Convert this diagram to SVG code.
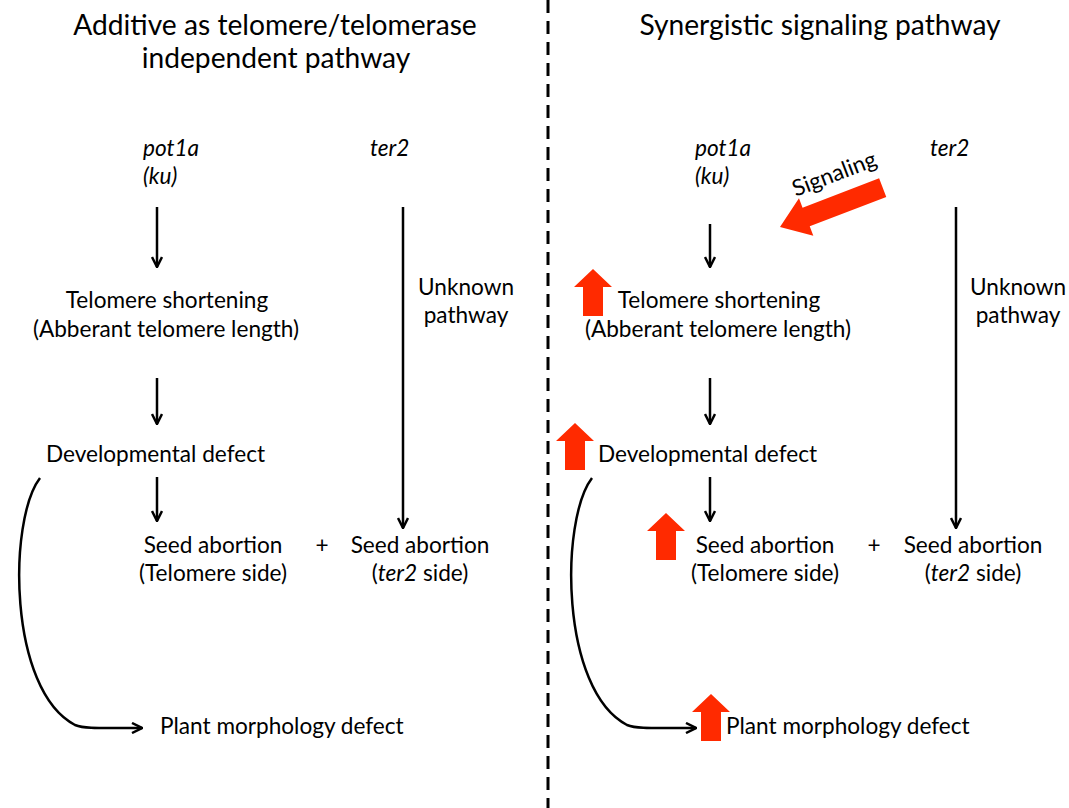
<svg xmlns="http://www.w3.org/2000/svg" width="1069" height="808" viewBox="0 0 1069 808">
<style>
text{font-family:Lato,"Open Sans","Liberation Sans",sans-serif;fill:#000;font-size:22.6px}
.t{font-size:28.2px}
.i{font-style:italic}
.m{text-anchor:middle}
.c{fill:none;stroke:#000;stroke-width:2.5}
.up{fill:#FF2A00}
</style>
<defs>
<marker id="ah" viewBox="0 0 12 12" refX="11" refY="6" markerWidth="12" markerHeight="12" markerUnits="userSpaceOnUse" orient="auto">
<path d="M1,1 L11,6 L1,11" fill="none" stroke="#000" stroke-width="2.5"/>
</marker>
<path id="upa" d="M0,0 L19,18 L10,18 L10,47 L-10,47 L-10,18 L-19,18 Z"/>
</defs>
<rect width="1069" height="808" fill="#fff"/>
<line x1="548" y1="0" x2="548" y2="808" stroke="#000" stroke-width="3" stroke-dasharray="13,8"/>
<g id="titles">
<text class="t m" x="275" y="35">Additive as telomere/telomerase</text>
<text class="t m" x="276" y="68">independent pathway</text>
<text class="t m" x="820" y="35">Synergistic signaling pathway</text>
</g>
<g id="left">
<g id="l-pot1a"><text class="i" x="143" y="156">pot1a</text><text class="i" x="143" y="184">(ku)</text></g>
<g id="l-ter2"><text class="i" x="370" y="156">ter2</text></g>
<g id="l-telo"><text class="m" x="167" y="308">Telomere shortening</text><text class="m" x="166" y="337">(Abberant telomere length)</text></g>
<g id="l-unknown"><text class="m" x="466" y="295">Unknown</text><text class="m" x="466" y="323">pathway</text></g>
<g id="l-dev"><text x="46" y="462">Developmental defect</text></g>
<g id="l-seed1"><text class="m" x="213" y="553">Seed abortion</text><text class="m" x="213" y="581">(Telomere side)</text></g>
<g id="l-plus"><text class="m" x="322" y="553">+</text></g>
<g id="l-seed2"><text class="m" x="420" y="553">Seed abortion</text><text class="m" x="420" y="581">(<tspan class="i">ter2</tspan> side)</text></g>
<g id="l-plant"><text x="160" y="734">Plant morphology defect</text></g>
</g>
<g id="right">
<g id="r-pot1a"><text class="i" x="695" y="156">pot1a</text><text class="i" x="695" y="184">(ku)</text></g>
<g id="r-ter2"><text class="i" x="930" y="156">ter2</text></g>
<g id="r-telo"><text class="m" x="719" y="308">Telomere shortening</text><text class="m" x="718" y="337">(Abberant telomere length)</text></g>
<g id="r-unknown"><text class="m" x="1018" y="295">Unknown</text><text class="m" x="1018" y="323">pathway</text></g>
<g id="r-dev"><text x="598" y="462">Developmental defect</text></g>
<g id="r-seed1"><text class="m" x="765" y="553">Seed abortion</text><text class="m" x="765" y="581">(Telomere side)</text></g>
<g id="r-plus"><text class="m" x="874" y="553">+</text></g>
<g id="r-seed2"><text class="m" x="973" y="553">Seed abortion</text><text class="m" x="973" y="581">(<tspan class="i">ter2</tspan> side)</text></g>
<g id="r-plant"><text x="726" y="734">Plant morphology defect</text></g>
</g>
<g id="connectors">
<line class="c" x1="157" y1="207" x2="157" y2="267" marker-end="url(#ah)"/>
<line class="c" x1="157" y1="378" x2="157" y2="424" marker-end="url(#ah)"/>
<line class="c" x1="157" y1="477" x2="157" y2="521" marker-end="url(#ah)"/>
<line class="c" x1="403" y1="207" x2="403" y2="528" marker-end="url(#ah)"/>
<path class="c" d="M40,478 C8,520 8,690 75,725 C85,729 100,728 142,728" marker-end="url(#ah)"/>
<line class="c" x1="710" y1="224" x2="710" y2="267" marker-end="url(#ah)"/>
<line class="c" x1="710" y1="378" x2="710" y2="424" marker-end="url(#ah)"/>
<line class="c" x1="710" y1="477" x2="710" y2="521" marker-end="url(#ah)"/>
<line class="c" x1="956" y1="207" x2="956" y2="528" marker-end="url(#ah)"/>
<path class="c" d="M592,478 C560,520 560,690 627,725 C637,729 652,728 696,728" marker-end="url(#ah)"/>
</g>
<g id="red-arrows">
<use href="#upa" class="up" x="593" y="269"/>
<use href="#upa" class="up" x="575" y="423"/>
<use href="#upa" class="up" x="666" y="513"/>
<use href="#upa" class="up" x="711" y="694"/>
</g>
<g id="signaling">
<path class="up" transform="translate(780,227) rotate(-21)" d="M0,0 L28,-20 L28,-10 L110,-10 L110,10 L28,10 L28,20 Z"/>
<text class="m" transform="translate(837,181) rotate(-21)" font-size="26">Signaling</text>
</g>
</svg>
